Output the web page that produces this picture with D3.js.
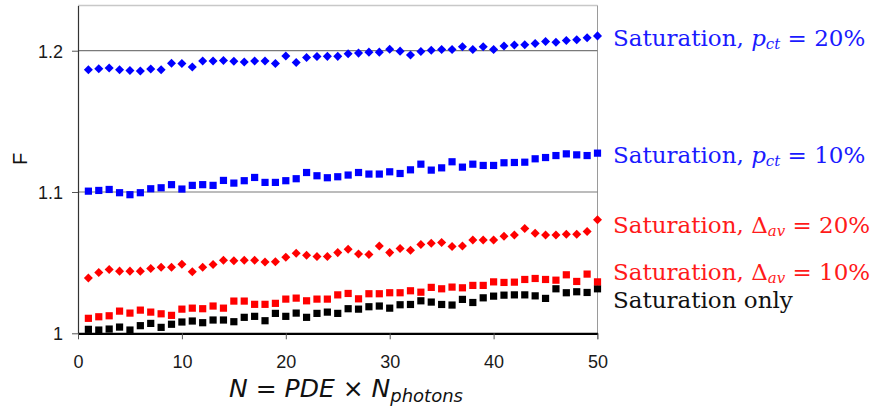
<!DOCTYPE html>
<html lang="en">
<head>
  <meta charset="UTF-8">
  <title>chart</title>
</head>
<body>
<style>
  * {
    padding: 0;
    margin: 0;
  }

  body {
    background: #fff;
  }

  #app {
    width: 888px;
    height: 409px;
  }

  .tick text {
    font-family: "Liberation Sans", Arial, sans-serif;
    font-size: 18px;
    fill: #1a1a1a;
  }
</style>

<div id="app"></div>

<script src="https://cdn.jsdelivr.net/npm/d3@7/dist/d3.min.js"></script>
<script>
  // N values 1..50
  let nValues = [1, 2, 3, 4, 5, 6, 7, 8, 9, 10, 11, 12, 13, 14, 15, 16, 17, 18, 19, 20,
    21, 22, 23, 24, 25, 26, 27, 28, 29, 30, 31, 32, 33, 34, 35, 36, 37, 38, 39, 40,
    41, 42, 43, 44, 45, 46, 47, 48, 49, 50];

  // Saturation, p_ct = 20%
  let satCt20 = [1.1865, 1.1872, 1.1877, 1.1865, 1.1860, 1.1856, 1.1870, 1.1866, 1.1912, 1.1910,
    1.1884, 1.1927, 1.1927, 1.1930, 1.1925, 1.1920, 1.1927, 1.1927, 1.1910, 1.1962,
    1.1917, 1.1952, 1.1959, 1.1960, 1.1960, 1.1978, 1.1983, 1.1990, 1.1990, 1.2011,
    1.1997, 1.1969, 1.1994, 1.2004, 1.2009, 1.2009, 1.2028, 1.2009, 1.2028, 1.2009,
    1.2033, 1.2040, 1.2042, 1.2051, 1.2065, 1.2060, 1.2072, 1.2077, 1.2091, 1.2105];

  // Saturation, p_ct = 10%
  let satCt10 = [1.1006, 1.1011, 1.1018, 1.0995, 1.0981, 1.0995, 1.1023, 1.1030, 1.1052, 1.1021,
    1.1047, 1.1052, 1.1047, 1.1082, 1.1063, 1.1080, 1.1103, 1.1068, 1.1068, 1.1080,
    1.1094, 1.1138, 1.1115, 1.1101, 1.1108, 1.1120, 1.1138, 1.1127, 1.1127, 1.1143,
    1.1131, 1.1157, 1.1197, 1.1155, 1.1171, 1.1214, 1.1176, 1.1197, 1.1188, 1.1188,
    1.1207, 1.1209, 1.1211, 1.1235, 1.1244, 1.1258, 1.1270, 1.1263, 1.1258, 1.1275];

  // Saturation, Delta_av = 20%
  let satAv20 = [1.0392, 1.0430, 1.0452, 1.0440, 1.0440, 1.0440, 1.0459, 1.0468, 1.0468, 1.0489,
    1.0435, 1.0468, 1.0487, 1.0517, 1.0513, 1.0517, 1.0517, 1.0505, 1.0507, 1.0539,
    1.0567, 1.0553, 1.0543, 1.0543, 1.0571, 1.0595, 1.0562, 1.0557, 1.0618, 1.0571,
    1.0600, 1.0588, 1.0628, 1.0637, 1.0642, 1.0614, 1.0618, 1.0661, 1.0661, 1.0661,
    1.0687, 1.0696, 1.0741, 1.0708, 1.0696, 1.0696, 1.0701, 1.0701, 1.0720, 1.0804];

  // Saturation, Delta_av = 10%
  let satAv10 = [1.0106, 1.0117, 1.0124, 1.0157, 1.0143, 1.0164, 1.0150, 1.0138, 1.0127, 1.0171,
    1.0178, 1.0174, 1.0193, 1.0178, 1.0228, 1.0228, 1.0205, 1.0205, 1.0212, 1.0242,
    1.0249, 1.0230, 1.0242, 1.0242, 1.0272, 1.0282, 1.0244, 1.0280, 1.0280, 1.0287,
    1.0287, 1.0301, 1.0291, 1.0325, 1.0315, 1.0327, 1.0322, 1.0339, 1.0339, 1.0364,
    1.0360, 1.0362, 1.0381, 1.0388, 1.0381, 1.0376, 1.0414, 1.0367, 1.0419, 1.0364];

  // Saturation only
  let satOnly = [1.0028, 1.0023, 1.0030, 1.0044, 1.0023, 1.0054, 1.0070, 1.0042, 1.0064, 1.0080,
    1.0087, 1.0075, 1.0094, 1.0094, 1.0082, 1.0113, 1.0120, 1.0089, 1.0141, 1.0120,
    1.0143, 1.0113, 1.0141, 1.0150, 1.0141, 1.0174, 1.0171, 1.0188, 1.0193, 1.0178,
    1.0202, 1.0204, 1.0230, 1.0221, 1.0204, 1.0200, 1.0240, 1.0218, 1.0251, 1.0263,
    1.0270, 1.0272, 1.0272, 1.0265, 1.0247, 1.0315, 1.0287, 1.0294, 1.0289, 1.0315];

  let xTicks = [0, 10, 20, 30, 40, 50];
  let yTicks = [1, 1.1, 1.2];

  let $width = 888, $height = 409;
  let pLeft = 78, pRight = 597.5, pTop = 5.5, pBottom = 333.3;
  let serif = "'DejaVu Serif', 'Liberation Serif', serif";

  let svg = d3.select("#app").append("svg").attr("width", $width).attr("height", $height)

  let x = d3.scaleLinear().domain([0, 50]).range([pLeft, pRight]);
  let y = d3.scaleLinear().domain([1, 1.232]).range([pBottom, pTop]);

  // frame: top and right borders
  svg.append("line").attr("x1", pLeft).attr("x2", pRight).attr("y1", pTop).attr("y2", pTop)
    .attr("stroke", "#c8c8c8").attr("stroke-width", 1.5)
  svg.append("line").attr("x1", pRight).attr("x2", pRight).attr("y1", pTop).attr("y2", pBottom + 6)
    .attr("stroke", "#9a9a9a").attr("stroke-width", 1)

  // grid lines
  svg.selectAll(".grid").data(yTicks.filter(d => d > 1)).enter().append("line")
    .attr("class", "grid")
    .attr("x1", pLeft).attr("x2", pRight)
    .attr("y1", d => y(d)).attr("y2", d => y(d))
    .attr("stroke", "#7a7a7a").attr("stroke-width", 1.2)

  // y axis
  let yAxis = svg.append("g").attr("transform", "translate(" + pLeft + ",0)")
    .call(d3.axisLeft(y).tickValues(yTicks).tickFormat(d => d == 1 ? "1" : d3.format(".1f")(d))
      .tickSize(6).tickSizeOuter(0).tickPadding(9))
  yAxis.select(".domain").attr("stroke", "#333").attr("stroke-width", 1.2)
  yAxis.selectAll(".tick line").attr("stroke", "#555")
  yAxis.selectAll(".tick text").attr("dy", "0.36em")

  // x axis
  let xAxis = svg.append("g").attr("transform", "translate(0," + pBottom + ")")
    .call(d3.axisBottom(x).tickValues(xTicks).tickSize(6).tickSizeOuter(0).tickPadding(16))
  xAxis.select(".domain").attr("stroke", "#000").attr("stroke-width", 2.2)
  xAxis.selectAll(".tick line").attr("stroke", "#555")

  // markers
  let diamond = d3.symbol().type(d3.symbolDiamond2).size(52);

  function squares(vals, color) {
    svg.append("g").selectAll("rect").data(vals).enter().append("rect")
      .attr("x", (d, i) => x(nValues[i]) - 3.6)
      .attr("y", d => y(d) - 3.6)
      .attr("width", 7.2).attr("height", 7.2)
      .attr("fill", color)
  }

  function diamonds(vals, color) {
    svg.append("g").selectAll("path").data(vals).enter().append("path")
      .attr("d", diamond)
      .attr("transform", (d, i) => "translate(" + x(nValues[i]) + "," + y(d) + ")")
      .attr("fill", color)
  }

  squares(satOnly, "#000000")
  squares(satAv10, "#ff0000")
  diamonds(satAv20, "#ff0000")
  squares(satCt10, "#0000ff")
  diamonds(satCt20, "#0000ff")

  // series labels on the right
  let labels = [
    {y: 46, color: "#1a1aff", sym: "p", symItalic: true, sub: "ct", val: "20%"},
    {y: 163, color: "#1a1aff", sym: "p", symItalic: true, sub: "ct", val: "10%"},
    {y: 233, color: "#ff1a1a", sym: "\u0394", symItalic: false, sub: "av", val: "20%"},
    {y: 280, color: "#ff1a1a", sym: "\u0394", symItalic: false, sub: "av", val: "10%"}
  ];

  labels.forEach(function (l) {
    let t = svg.append("text").attr("x", 613).attr("y", l.y).attr("fill", l.color)
      .attr("font-family", serif).attr("font-size", "23px")
    t.append("tspan").text("Saturation, ")
    t.append("tspan").text(l.sym).attr("font-style", l.symItalic ? "italic" : "normal")
    t.append("tspan").text(l.sub).attr("font-style", "italic").attr("font-size", "15px").attr("dy", 3)
    t.append("tspan").text(" = " + l.val).attr("dy", -3)
  })

  svg.append("text").attr("x", 613).attr("y", 308).attr("fill", "#111")
    .attr("font-family", serif).attr("font-size", "23px")
    .text("Saturation only")

  // axis titles
  svg.append("text").attr("transform", "translate(27,159) rotate(-90)")
    .attr("text-anchor", "middle")
    .attr("font-family", "Liberation Sans, Arial, sans-serif").attr("font-size", "20px")
    .attr("fill", "#111").text("F")

  let xt = svg.append("text").attr("x", 346).attr("y", 397).attr("text-anchor", "middle")
    .attr("font-family", "'DejaVu Sans', 'Liberation Sans', sans-serif").attr("font-size", "25px").attr("fill", "#111")
  xt.append("tspan").text("N").attr("font-style", "italic")
  xt.append("tspan").text(" = ")
  xt.append("tspan").text("PDE").attr("font-style", "italic")
  xt.append("tspan").text(" \u00d7 ")
  xt.append("tspan").text("N").attr("font-style", "italic")
  xt.append("tspan").text("photons").attr("font-style", "italic").attr("font-size", "18px").attr("dy", 5)
</script>
</body>
</html>
